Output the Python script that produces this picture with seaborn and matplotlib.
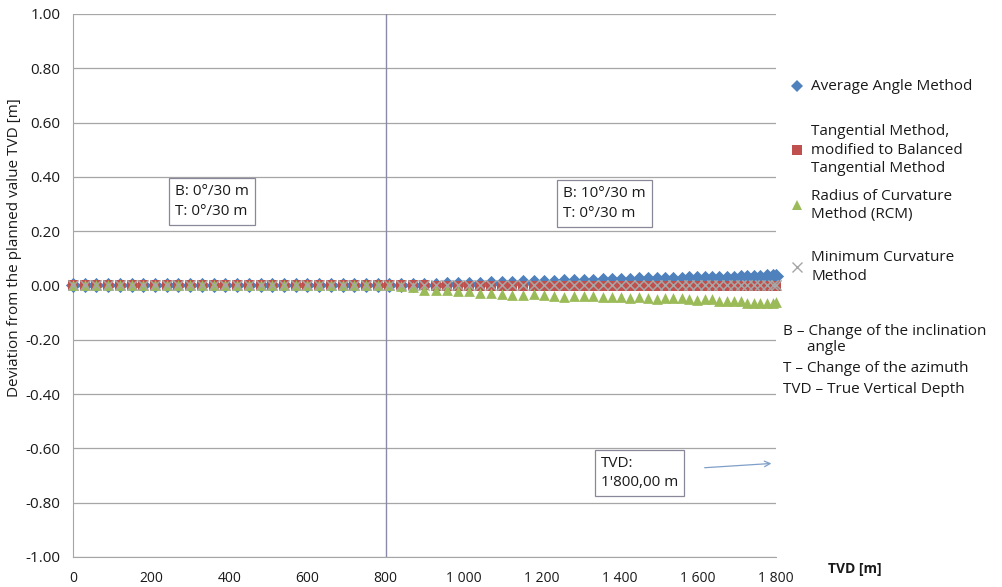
import matplotlib
matplotlib.use("Agg")
import matplotlib.pyplot as plt
from matplotlib.lines import Line2D
import seaborn as sns
import pandas as pd

# TVD stations [m]: 30 m steps while straight, tighter once the build starts
tvd = [0, 30, 60, 90, 120, 150, 180, 210, 240, 270, 300, 330, 360, 390, 420,
       450, 480, 510, 540, 570, 600, 630, 660, 690, 720, 750, 780, 810,
       840, 870, 899, 928, 957, 986, 1014, 1042, 1070, 1098, 1125, 1152, 1179,
       1205, 1231, 1257, 1282, 1307, 1332, 1356, 1380, 1404, 1427, 1450, 1472,
       1494, 1516, 1537, 1558, 1578, 1598, 1617, 1636, 1655, 1673, 1691, 1709,
       1726, 1743, 1760, 1776, 1792, 1800]

zeros = [0.0] * 28

avg_angle = zeros + [
    0.000, 0.001, 0.002, 0.003, 0.004, 0.005, 0.006, 0.007, 0.008, 0.009,
    0.010, 0.011, 0.012, 0.013, 0.014, 0.015, 0.016, 0.017, 0.018, 0.019,
    0.020, 0.020, 0.021, 0.022, 0.022, 0.023, 0.024, 0.024, 0.025, 0.026,
    0.026, 0.027, 0.027, 0.028, 0.029, 0.029, 0.030, 0.031, 0.031, 0.032,
    0.033, 0.034, 0.034]

tangential = zeros + [
    0.000, 0.000, 0.000, -0.001, -0.001, -0.001, -0.001, -0.001, -0.001, -0.001,
    -0.001, -0.001, -0.001, -0.001, -0.001, -0.001, -0.001, -0.001, -0.001, -0.001,
    -0.001, -0.001, -0.001, -0.001, -0.001, -0.001, -0.001, -0.001, -0.001, -0.001,
    -0.001, -0.001, -0.001, -0.001, -0.001, -0.001, -0.001, -0.001, -0.001, -0.001,
    -0.001, -0.001, -0.001]

radius_curv = zeros + [
    -0.002, -0.004, -0.017, -0.017, -0.018, -0.019, -0.020, -0.028, -0.029, -0.030,
    -0.035, -0.036, -0.030, -0.036, -0.037, -0.044, -0.038, -0.040, -0.040, -0.041,
    -0.042, -0.043, -0.048, -0.044, -0.045, -0.050, -0.046, -0.047, -0.048, -0.049,
    -0.055, -0.050, -0.051, -0.056, -0.057, -0.057, -0.058, -0.063, -0.064, -0.064,
    -0.065, -0.066, -0.062]

min_curv = zeros + [
    0.000, 0.000, 0.000, 0.000, 0.000, 0.000, 0.000, 0.000, 0.000, 0.000,
    0.000, 0.000, 0.000, 0.000, 0.000, 0.000, 0.000, 0.000, 0.000, 0.000,
    0.000, 0.000, 0.000, 0.000, 0.001, 0.001, 0.001, 0.001, 0.001, 0.001,
    0.001, 0.001, 0.001, 0.001, 0.002, 0.002, 0.002, 0.002, 0.002, 0.002,
    0.002, 0.003, 0.003]

labels = ["Average Angle Method",
          "Tangential Method,\nmodified to Balanced\nTangential Method",
          "Radius of Curvature\nMethod (RCM)",
          "Minimum Curvature\nMethod"]
colors = ["#4F81BD", "#C0504D", "#9BBB59", "#A6A6A6"]
markers = ["D", "s", "^", "x"]

x_ticks = [0, 200, 400, 600, 800, 1000, 1200, 1400, 1600, 1800]
x_ticklabels = ["0", "200", "400", "600", "800", "1 000", "1 200", "1 400", "1 600", "1 800"]
y_ticks = [-1.0, -0.8, -0.6, -0.4, -0.2, 0.0, 0.2, 0.4, 0.6, 0.8, 1.0]

sns.set_style("white")
plt.rcParams['font.family'] = ['Open Sans', 'DejaVu Sans']
txt = "#1A1A1A"

fig = plt.figure(figsize=(10.03, 5.87), dpi=100)
ax = fig.add_axes([0.0728, 0.0512, 0.7010, 0.9250])

series = [avg_angle, tangential, radius_curv, min_curv]
for vals, col, mk in zip(series, colors, markers):
    df = pd.DataFrame({"tvd": tvd, "dev": vals})
    if mk == "x":
        sns.scatterplot(data=df, x="tvd", y="dev", marker=mk, color=col,
                        s=55, linewidth=1.1, ax=ax, legend=False, zorder=3,
                        clip_on=False)
    else:
        sns.scatterplot(data=df, x="tvd", y="dev", marker=mk, color=col,
                        s=60, linewidth=0, ax=ax, legend=False, zorder=3,
                        clip_on=False)

ax.set_xlim(0, 1800)
ax.set_ylim(-1.0, 1.0)
ax.set_xticks(x_ticks)
ax.set_xticklabels(x_ticklabels)
ax.set_yticks(y_ticks)
ax.set_yticklabels([f"{v:.2f}" for v in y_ticks])
ax.set_xlabel("")
ax.set_ylabel("Deviation from the planned value TVD [m]", fontsize=11, color=txt)
ax.yaxis.set_label_coords(-0.073, 0.569)

for y in y_ticks:
    ax.axhline(y, color="#A6A6A6", lw=0.9, zorder=1)
ax.axvline(800, color="#8A8AA8", lw=1.0, zorder=2)

for s in ["top", "right"]:
    ax.spines[s].set_visible(False)
ax.spines["left"].set_color("#A6A6A6")
ax.spines["bottom"].set_color("#A6A6A6")
ax.tick_params(axis="both", direction="out", length=5, color="#A6A6A6",
               labelcolor=txt)
ax.tick_params(axis="x", pad=5, labelsize=10)
ax.tick_params(axis="y", pad=4, labelsize=11)

# annotation boxes
box = dict(boxstyle="square,pad=0.4", fc="white", ec="#888899", lw=0.9)
ax.text(262, 0.372, "B: 0°/30 m\nT: 0°/30 m", fontsize=11, va="top", ha="left",
        bbox=box, linespacing=1.4, zorder=4, color=txt)
ax.text(1255, 0.365, "B: 10°/30 m\nT: 0°/30 m", fontsize=11, va="top", ha="left",
        bbox=box, linespacing=1.4, zorder=4, color=txt)
ax.text(1352, -0.628, "TVD:\n1'800,00 m", fontsize=11, va="top", ha="left",
        bbox=box, linespacing=1.35, zorder=4, color=txt)
ax.annotate("", xy=(1795, -0.655), xytext=(1610, -0.672),
            arrowprops=dict(arrowstyle="->", color="#7F9FC8", lw=0.9))

# legend drawn by hand to match the spacing of the original
leg_y = [0.853, 0.744, 0.650, 0.545]
for lab, col, mk, yy in zip(labels, colors, markers, leg_y):
    fig.add_artist(Line2D([0.795], [yy], marker=mk, color=col, linestyle="none",
                          markersize=6.5 if mk != "x" else 7.5,
                          markeredgewidth=0 if mk != "x" else 1.0,
                          transform=fig.transFigure))
    fig.text(0.809, yy, lab, fontsize=11, va="center", ha="left",
             linespacing=1.3, color=txt)

fig.text(0.781, 0.421, "B – Change of the inclination\n      angle", fontsize=11,
         va="center", ha="left", linespacing=1.1, color=txt)
fig.text(0.781, 0.373, "T – Change of the azimuth", fontsize=11, va="center",
         ha="left", color=txt)
fig.text(0.781, 0.337, "TVD – True Vertical Depth", fontsize=11, va="center",
         ha="left", color=txt)
fig.text(0.826, 0.030, "TVD [m]", fontsize=10, fontweight="bold", va="center",
         ha="left", color=txt)

fig.savefig("out.png", dpi=100)
